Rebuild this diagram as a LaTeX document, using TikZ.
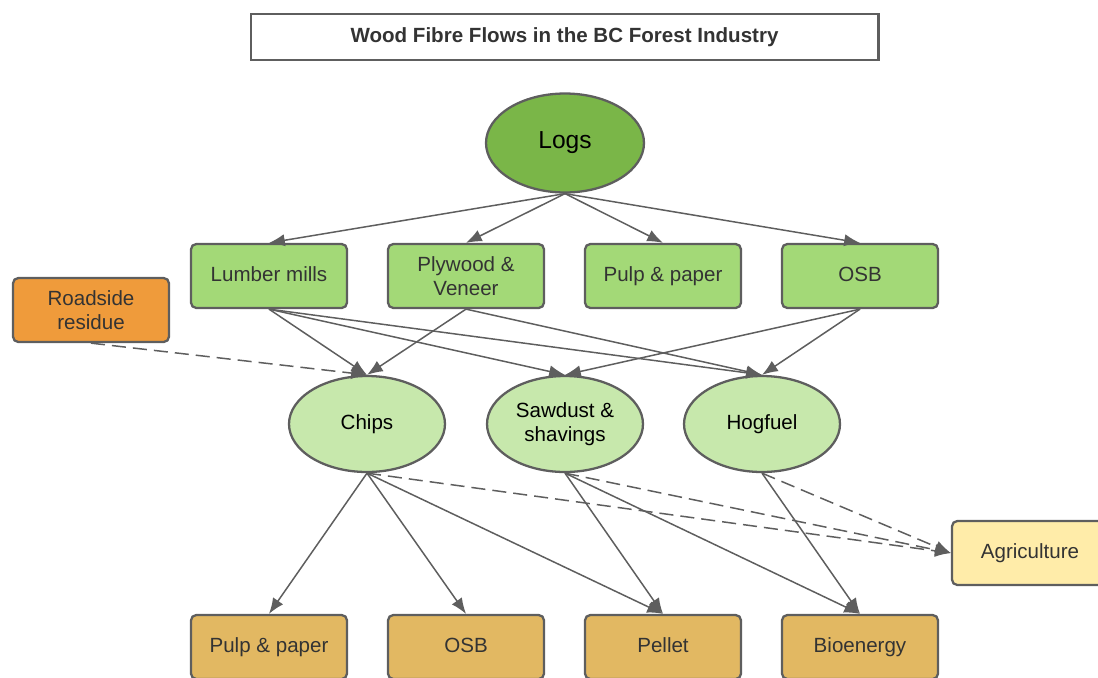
\documentclass[tikz,border=0pt]{standalone}
\usepackage{fontspec}
\setmainfont{Liberation Sans}
\usetikzlibrary{shapes.geometric,arrows.meta}
\definecolor{rimgray}{HTML}{5E5E5E}
\definecolor{txtgray}{HTML}{333333}
\definecolor{logsgreen}{HTML}{7AB648}
\definecolor{millgreen}{HTML}{A3D977}
\definecolor{fibregreen}{HTML}{C7E8AC}
\definecolor{residue}{HTML}{EF9B3B}
\definecolor{farmyellow}{HTML}{FFECA9}
\definecolor{enduse}{HTML}{E2B862}
\tikzstyle{box} = [rectangle, rounded corners=3pt, draw=rimgray, line width=1.3pt, minimum width=3.12cm, minimum height=1.28cm, align=center, text=txtgray, font=\fontsize{11.7}{13.6}\selectfont, text height=1.55ex, text depth=.45ex]
\tikzstyle{twoline} = [text height=, text depth=]
\tikzstyle{mill} = [box, fill=millgreen]
\tikzstyle{user} = [box, fill=enduse]
\tikzstyle{fibre} = [ellipse, draw=rimgray, line width=1.3pt, fill=fibregreen, minimum width=3.12cm, minimum height=1.92cm, align=center, font=\fontsize{11.7}{13.6}\selectfont]
\tikzstyle{flow} = [draw=rimgray, line width=0.85pt, -{Latex[length=9pt,width=7pt]}]
\tikzstyle{spill} = [flow, dash pattern=on 8pt off 4pt]

\begin{document}
\begin{tikzpicture}[x=0.02cm, y=-0.02cm]
			\useasboundingbox (0,0) rectangle (1098,677);
			\node [rectangle, draw=rimgray, line width=1.2pt, minimum width=12.56cm, minimum height=0.92cm, text=txtgray, font=\fontsize{11.7}{14}\selectfont\bfseries] (title) at (564.5,37) {Wood Fibre Flows in the BC Forest Industry};
			\node [ellipse, draw=rimgray, line width=1.3pt, fill=logsgreen, minimum width=3.16cm, minimum height=1.98cm, font=\fontsize{14}{16}\selectfont] (logs) at (565,143) {Logs};
			\node [mill] (lumber) at (269,276) {Lumber mills};
			\node [mill, twoline] (plywood) at (466,276) {Plywood \&\\Veneer};
			\node [mill] (pulp) at (663,276) {Pulp \& paper};
			\node [mill] (osb) at (860,276) {OSB};
			\node [box, twoline, fill=residue] (roadside) at (91,310) {Roadside\\residue};
			\node [fibre] (chips) at (367,424) {Chips};
			\node [fibre] (sawdust) at (565,424) {Sawdust \&\\shavings};
			\node [fibre] (hogfuel) at (762,424) {Hogfuel};
			\node [box, fill=farmyellow] (agri) at (1030,553) {Agriculture};
			\node [user] (pulpuse) at (269,647) {Pulp \& paper};
			\node [user] (osbuse) at (466,647) {OSB};
			\node [user] (pellet) at (663,647) {Pellet};
			\node [user] (bioenergy) at (860,647) {Bioenergy};
			\foreach \m in {lumber,plywood,pulp,osb}
				\draw [flow] (logs.south) -- (\m.north);
			\foreach \a/\b in {lumber/chips, lumber/sawdust, lumber/hogfuel, plywood/chips, plywood/hogfuel, osb/sawdust, osb/hogfuel}
				\draw [flow] (\a.south) -- (\b.north);
			\draw [spill] (roadside.south) -- (chips.north);
			\foreach \a/\b in {chips/pulpuse, chips/osbuse, chips/pellet, sawdust/pellet, sawdust/bioenergy, hogfuel/bioenergy}
				\draw [flow] (\a.south) -- (\b.north);
			\foreach \a in {chips,sawdust,hogfuel}
				\draw [spill] (\a.south) -- (agri.west);
		\end{tikzpicture}
\end{document}
